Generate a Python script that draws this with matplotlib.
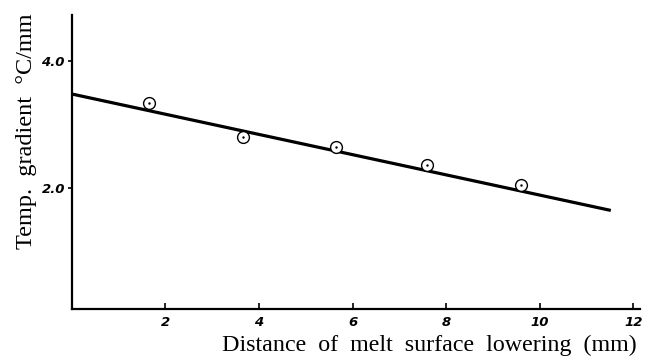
import numpy as np
import matplotlib
matplotlib.use('Agg')
import matplotlib.pyplot as plt

# measured points (distance mm, gradient)
dist = [1.65, 3.65, 5.65, 7.6, 9.6]
grad = [3.34, 2.80, 2.65, 2.36, 2.05]

# fitted line end points
fit_x = [0.0, 11.52]
fit_y = [3.48, 1.65]

xticks = [2, 4, 6, 8, 10, 12]
yticks = [2.0, 4.0]
ytick_labels = ['2.0', '4.0']

fig = plt.figure(figsize=(6.54, 3.61), dpi=100)
ax = fig.add_axes([0.110, 0.144, 0.869, 0.814])

ax.plot(fit_x, fit_y, color='black', lw=2.3, solid_capstyle='butt')
ax.plot(dist, grad, 'o', mfc='white', mec='black', ms=8.5, mew=1.0)
ax.plot(dist, grad, '.', color='black', ms=1.5)

ax.set_xlim(0, 12.15)
ax.set_ylim(0.1, 4.72)

for s in ['top', 'right']:
    ax.spines[s].set_visible(False)
ax.spines['left'].set_linewidth(1.6)
ax.spines['bottom'].set_linewidth(1.6)

ax.set_xticks(xticks)
ax.set_xticklabels([str(t) for t in xticks], fontstyle='italic', fontweight='bold', fontsize=9.5)
ax.set_yticks(yticks)
ax.set_yticklabels(ytick_labels, fontstyle='italic', fontweight='bold', fontsize=9.5)
ax.tick_params(axis='x', direction='in', length=4, width=1.2, pad=5)
ax.tick_params(axis='y', direction='out', length=3, width=1.2, pad=2)

ax.set_xlabel('Distance  of  melt  surface  lowering  (mm)', family='Liberation Serif', fontsize=17.3)
ax.xaxis.set_label_coords(0.629, -0.088)
ax.set_ylabel('Temp.  gradient  °C/mm', family='Liberation Serif', fontsize=17.5)
ax.yaxis.set_label_coords(-0.062, 0.605)

fig.savefig('out.png', dpi=100)
